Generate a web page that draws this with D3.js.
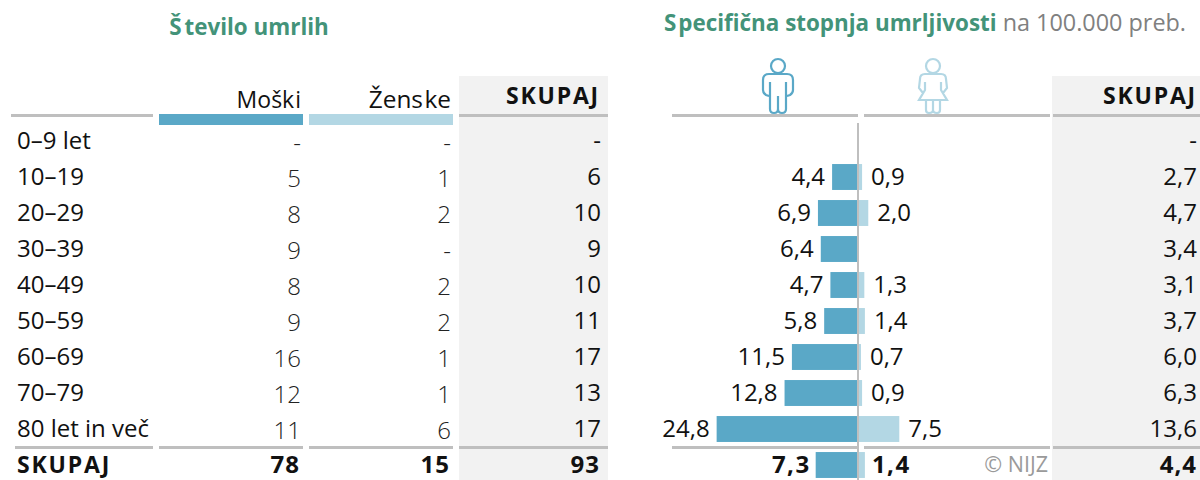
<!DOCTYPE html>
<html>
<head>
<meta charset="utf-8">
<script src="https://cdn.jsdelivr.net/npm/d3@7"></script>
<style>
  html, body { margin: 0; padding: 0; background: #fff; }
  svg { display: block; font-family: "Open Sans", sans-serif; }
</style>
</head>
<body>
<div id="chart"></div>
<script>
const ageGroups = ['0–9 let', '10–19', '20–29', '30–39', '40–49', '50–59', '60–69', '70–79', '80 let in več'];
const maleCounts = [null, 5, 8, 9, 8, 9, 16, 12, 11];
const femaleCounts = [null, 1, 2, null, 2, 2, 1, 1, 6];
const totalCounts = [null, 6, 10, 9, 10, 11, 17, 13, 17];
const maleRates = [null, 4.4, 6.9, 6.4, 4.7, 5.8, 11.5, 12.8, 24.8];
const femaleRates = [null, 0.9, 2.0, null, 1.3, 1.4, 0.7, 0.9, 7.5];
const totalRates = [null, 2.7, 4.7, 3.4, 3.1, 3.7, 6.0, 6.3, 13.6];
const sumCounts = [78, 15, 93];
const sumRates = [7.3, 1.4, 4.4];
const sumLabel = 'SKUPAJ';

const WIDTH = 1200, HEIGHT = 480;
const MALE = '#5aa8c7', FEMALE = '#b3d7e4', RULE = '#bfbfbf', PANEL = '#f2f2f2', GREEN = '#439379', INK = '#111';
const FS = 24;

const svg = d3.select('#chart').append('svg').attr('width', WIDTH).attr('height', HEIGHT);

const rows = ageGroups.concat([sumLabel]);
const y = d3.scaleBand().domain(rows).range([123, 483]).paddingInner(0.28).paddingOuter(0.14);
const mid = function(name) { return y(name) + y.bandwidth() / 2; };

const xMale = d3.scaleLinear().domain([0, 25]).range([857, 715.5]);
const xFemale = d3.scaleLinear().domain([0, 25]).range([857, 998]);

const comma = function(v) { return v === null ? '-' : d3.format('.1f')(v).replace('.', ','); };
const plain = function(v) { return v === null ? '-' : String(v); };

// Grey panels behind the totals
[[459, 149], [1052, 148]].forEach(function(p) {
    svg.append('rect').attr('x', p[0]).attr('y', 76).attr('width', p[1]).attr('height', HEIGHT - 76).attr('fill', PANEL);
});

// Rules
function rule(x1, x2, yPos) {
    svg.append('rect').attr('x', x1).attr('y', yPos).attr('width', x2 - x1).attr('height', 3).attr('fill', RULE);
}
[[11, 153], [459, 608], [672, 858], [864, 1050], [1053, 1200]].forEach(function(r) { rule(r[0], r[1], 114); });
[[15, 153], [159, 303], [309, 453], [459, 608], [672, 858], [864, 1050], [1053, 1200]].forEach(function(r) { rule(r[0], r[1], 446); });

// Legend bars under the column heads
svg.append('rect').attr('x', 159).attr('y', 114).attr('width', 144).attr('height', 11).attr('fill', MALE);
svg.append('rect').attr('x', 309).attr('y', 114).attr('width', 144).attr('height', 11).attr('fill', FEMALE);

function label(text, x, yPos, opts) {
    opts = opts || {};
    return svg.append('text')
        .attr('x', x).attr('y', yPos)
        .attr('dx', opts.dx || null)
        .attr('text-anchor', opts.anchor || 'end')
        .attr('font-size', opts.size || FS)
        .attr('font-weight', opts.weight || 400)
        .attr('letter-spacing', opts.spacing || null)
        .attr('fill', opts.fill || INK)
        .text(text);
}

// Titles
label('Število umrlih', 249, 35, { anchor: 'middle', size: 22.4, weight: 700, fill: GREEN, dx: '0 3' });
const rateTitle = label('Specifična stopnja umrljivosti', 664, 31, { anchor: 'start', size: 22.4, weight: 700, fill: GREEN, dx: '0 2' });
rateTitle.append('tspan').attr('font-weight', 400).attr('font-size', 23.4).attr('fill', '#808080').text(' na 100.000 preb.');

// Column heads
label('Moški', 301, 108, { size: 23, dx: '0 0 0 0 1' });
label('Ženske', 451, 108, { size: 24.4, dx: '0 0 0 0 1.5' });
label(sumLabel, 600, 104, { weight: 700, size: 23, spacing: '1.8px' });
label(sumLabel, 1197, 104, { weight: 700, size: 23, spacing: '1.8px' });

// Left table
ageGroups.forEach(function(name, i) {
    const base = mid(name) + 8;
    label(name, 17, base, { anchor: 'start' });
    label(plain(maleCounts[i]), 301, base + 2, { weight: 300, fill: '#222' });
    label(plain(femaleCounts[i]), 451, base + 2, { weight: 300, fill: '#222' });
    label(plain(totalCounts[i]), 601, base);
    label(comma(totalRates[i]), 1197, base);
});

// Rate bars, one pair per age group plus the total row
const rateRows = rows.map(function(name, i) {
    return {
        name: name,
        male: i < ageGroups.length ? maleRates[i] : sumRates[0],
        female: i < ageGroups.length ? femaleRates[i] : sumRates[1],
        bold: i === ageGroups.length
    };
});

svg.selectAll('.male-bar').data(rateRows.filter(function(d) { return d.male !== null; })).enter().append('rect')
    .attr('class', 'male-bar')
    .attr('x', function(d) { return xMale(d.male); })
    .attr('y', function(d) { return y(d.name); })
    .attr('width', function(d) { return xMale(0) - xMale(d.male); })
    .attr('height', y.bandwidth())
    .attr('fill', MALE);

svg.selectAll('.female-bar').data(rateRows.filter(function(d) { return d.female !== null; })).enter().append('rect')
    .attr('class', 'female-bar')
    .attr('x', xFemale(0))
    .attr('y', function(d) { return y(d.name); })
    .attr('width', function(d) { return xFemale(d.female) - xFemale(0); })
    .attr('height', y.bandwidth())
    .attr('fill', FEMALE);

rateRows.forEach(function(d) {
    const base = mid(d.name) + 8;
    if (d.male !== null) {
        label(comma(d.male), xMale(d.male) - (d.bold ? 5 : 7), base, { weight: d.bold ? 700 : 400, spacing: d.bold ? '1.5px' : null });
    }
    if (d.female !== null) {
        label(comma(d.female), xFemale(d.female) + (d.bold ? 7 : 9), base, { anchor: 'start', weight: d.bold ? 700 : 400, spacing: d.bold ? '1.5px' : null });
    }
});

// Centre axis sits on top of the bars
svg.append('rect').attr('x', 857).attr('y', 123).attr('width', 2).attr('height', HEIGHT - 123).attr('fill', RULE);

// Total row
const sumBase = mid(sumLabel) + 8;
label(sumLabel, 17, sumBase, { anchor: 'start', weight: 700, size: 23, spacing: '1.8px' });
label(plain(sumCounts[0]), 300, sumBase, { weight: 700, spacing: '1px' });
label(plain(sumCounts[1]), 450, sumBase, { weight: 700, spacing: '1px' });
label(plain(sumCounts[2]), 600, sumBase, { weight: 700, spacing: '1px' });
label(comma(sumRates[2]), 1197, sumBase, { weight: 700, spacing: '1px' });
label('© NIJZ', 1048, sumBase - 1, { size: 21.5, fill: '#9a9a9a' });

// Person pictograms
const manPath = 'M7,-27 a7,7 0 1,1 -14,0 a7,7 0 1,1 14,0 M-9,-19 H9 Q15,-19 15,-13 V-3 Q15,0 12,2 L9,3 M-9,-19 Q-15,-19 -15,-13 V-3 Q-15,0 -12,2 L-9,3 M-8,-11 V16 Q-8,20 -4,20 Q0,20 0,16 V3 M8,-11 V16 Q8,20 4,20 Q0,20 0,16';
const womanPath = 'M7,-27 a7,7 0 1,1 -14,0 a7,7 0 1,1 14,0 M-8,-19 H8 Q13,-19 13,-14 L14,-5 L10,0 M-8,-19 Q-13,-19 -13,-14 L-14,-5 L-10,0 M-8,-11 L-8,-3 L-14,7 H14 L8,-3 L8,-11 M-7,7 V17 Q-7,20 -4,20 Q0,20 0,17 V7 M7,7 V17 Q7,20 4,20 Q0,20 0,17';
svg.append('path').attr('d', manPath).attr('transform', 'translate(778,93)')
    .attr('fill', 'none').attr('stroke', MALE).attr('stroke-width', 2.2);
svg.append('path').attr('d', womanPath).attr('transform', 'translate(933,93)')
    .attr('fill', 'none').attr('stroke', FEMALE).attr('stroke-width', 2.2);
</script>
</body>
</html>
